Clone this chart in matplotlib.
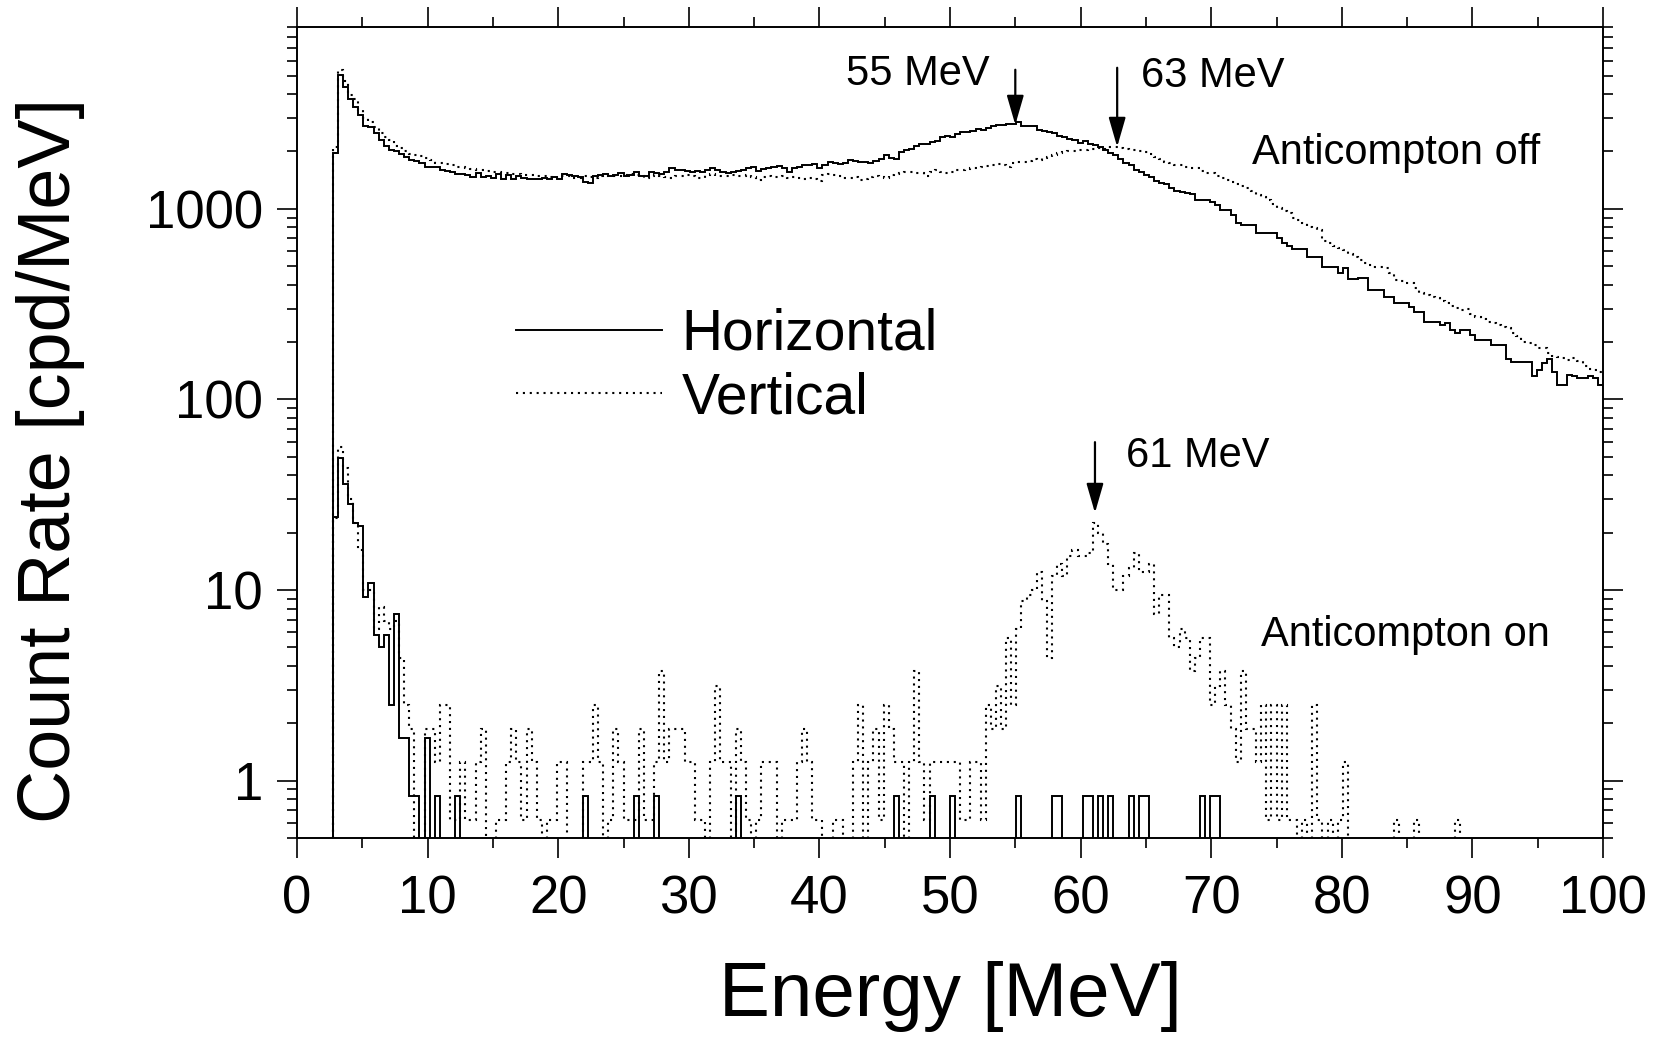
import numpy as np
import matplotlib
matplotlib.use("Agg")
import matplotlib.pyplot as plt
from matplotlib.lines import Line2D
from matplotlib.ticker import FixedLocator, LogLocator, NullFormatter, FuncFormatter

plt.rcParams['font.family'] = ['Liberation Sans', 'DejaVu Sans']

## spectrum binning: 256 channels over 0-100 MeV, first filled channel is 7
n_chan = 256
e_max = 100.0
first_chan = 7

## Anticompton off, count rate per channel [cpd/MeV], channels 7..255
off_horizontal = [
    1975, 5035, 4355, 3778, 3418, 3114, 2728, 2675, 2497, 2302,
    2148, 2040, 2000, 1945, 1868, 1808, 1790, 1750, 1667, 1650,
    1660, 1602, 1580, 1560, 1522, 1530, 1500, 1467, 1545, 1467,
    1480, 1460, 1530, 1437, 1510, 1440, 1480, 1460, 1437, 1437,
    1430, 1455, 1437, 1467, 1437, 1530, 1500, 1480, 1467, 1390,
    1364, 1480, 1510, 1530, 1490, 1510, 1545, 1490, 1510, 1560,
    1490, 1490, 1560, 1545, 1530, 1560, 1635, 1600, 1590, 1580,
    1560, 1580, 1560, 1590, 1635, 1590, 1560, 1545, 1560, 1580,
    1600, 1635, 1650, 1580, 1620, 1635, 1667, 1682, 1635, 1570,
    1635, 1667, 1690, 1700, 1722, 1635, 1700, 1757, 1738, 1722,
    1750, 1807, 1786, 1757, 1757, 1750, 1786, 1822, 1920, 1845,
    1822, 1976, 2040, 2065, 2150, 2185, 2195, 2240, 2282, 2397,
    2425, 2380, 2467, 2527, 2527, 2575, 2617, 2600, 2650, 2725,
    2740, 2760, 2800, 2780, 2840, 2706, 2725, 2706, 2600, 2570,
    2520, 2495, 2415, 2380, 2320, 2300, 2210, 2260, 2185, 2165,
    2100, 2040, 1960, 1920, 1822, 1738, 1700, 1600, 1570, 1508,
    1478, 1403, 1375, 1353, 1284, 1248, 1233, 1218, 1200, 1115,
    1115, 1115, 1084, 1050, 988, 988, 930, 841, 824, 824,
    824, 745, 745, 745, 745, 701, 660, 640, 614, 614,
    614, 562, 562, 562, 498, 498, 498, 460, 488, 427,
    427, 433, 433, 376, 376, 376, 343, 343, 320, 320,
    320, 307, 286, 286, 256, 256, 256, 246, 253, 232,
    223, 232, 232, 218, 205, 205, 205, 193, 193, 193,
    164, 158, 158, 158, 158, 132, 143, 155, 164, 140,
    119, 119, 134, 132, 129, 129, 132, 130, 119]

off_vertical = [
    2123, 5370, 4700, 3965, 3750, 3310, 3000, 2850, 2700, 2500,
    2380, 2300, 2125, 2085, 2000, 1945, 1925, 1890, 1840, 1808,
    1750, 1740, 1720, 1690, 1667, 1650, 1635, 1610, 1600, 1590,
    1580, 1560, 1560, 1545, 1545, 1530, 1530, 1510, 1510, 1500,
    1480, 1490, 1467, 1450, 1480, 1490, 1480, 1460, 1450, 1490,
    1467, 1450, 1480, 1510, 1480, 1490, 1480, 1510, 1530, 1510,
    1480, 1450, 1480, 1510, 1480, 1467, 1450, 1480, 1490, 1510,
    1490, 1450, 1460, 1510, 1530, 1490, 1480, 1490, 1510, 1480,
    1490, 1510, 1467, 1420, 1478, 1496, 1467, 1478, 1496, 1460,
    1478, 1449, 1437, 1449, 1430, 1392, 1508, 1526, 1508, 1496,
    1460, 1449, 1478, 1420, 1430, 1478, 1490, 1478, 1449, 1508,
    1526, 1540, 1557, 1557, 1540, 1550, 1490, 1570, 1590, 1570,
    1550, 1570, 1590, 1600, 1620, 1635, 1635, 1650, 1682, 1700,
    1715, 1690, 1667, 1736, 1757, 1772, 1790, 1822, 1807, 1845,
    1882, 1920, 1960, 1983, 2000, 2016, 2025, 2040, 2050, 2065,
    2080, 2065, 2124, 2124, 2080, 2065, 2040, 2025, 2000, 1976,
    1945, 1882, 1822, 1772, 1736, 1700, 1690, 1660, 1635, 1630,
    1580, 1545, 1540, 1480, 1450, 1420, 1390, 1350, 1320, 1284,
    1240, 1180, 1160, 1115, 1060, 1008, 980, 949, 900, 870,
    840, 808, 790, 776, 680, 660, 640, 622, 610, 580,
    562, 540, 519, 510, 498, 495, 488, 460, 424, 420,
    407, 407, 385, 361, 355, 345, 340, 330, 320, 310,
    301, 295, 300, 280, 272, 265, 256, 252, 246, 240,
    236, 223, 215, 201, 197, 193, 186, 186, 175, 170,
    168, 165, 161, 165, 160, 149, 145, 143, 140]

## Anticompton on: raw counts per channel, one count = unit [cpd/MeV]
on_horizontal_unit = 1 / 1.2
on_horizontal_chan = [7, 8, 9, 10, 11, 12, 13, 14, 15, 16, 17, 18, 19, 20, 21,
                      22, 23, 25, 27, 31, 56, 66, 70, 86, 117, 124, 128, 141,
                      148, 149, 154, 155, 157, 159, 163, 165, 166, 177, 179, 180]
on_horizontal_counts = [29, 59, 43, 34, 27, 26, 11, 13, 7, 6, 7, 3, 9, 2, 2,
                        1, 1, 2, 1, 1, 1, 1, 1, 1, 1, 1, 1, 1,
                        1, 1, 1, 1, 1, 1, 1, 1, 1, 1, 1, 1]

on_vertical_unit = 1 / 1.6
on_vertical_counts = [  # channels 7..227
    38, 90, 70, 48, 36, 26, 16, 16, 10, 13,
    11, 10, 11, 7, 4, 3, 0, 0, 3, 3,
    2, 4, 4, 1, 1, 2, 1, 1, 2, 3,
    0, 0, 1, 1, 2, 3, 2, 1, 3, 2,
    1, 0, 1, 1, 2, 2, 0, 0, 0, 2,
    2, 4, 2, 0, 1, 3, 2, 1, 1, 1,
    3, 1, 1, 2, 6, 2, 3, 3, 3, 2,
    2, 1, 1, 0, 2, 5, 2, 2, 0, 3,
    2, 1, 0, 1, 2, 2, 2, 0, 1, 1,
    1, 2, 3, 2, 1, 1, 0, 0, 1, 1,
    0, 0, 2, 4, 0, 2, 3, 1, 4, 3,
    2, 2, 0, 2, 6, 2, 1, 2, 2, 2,
    2, 2, 2, 1, 1, 2, 2, 1, 4, 3,
    5, 3, 9, 4, 10, 14, 15, 16, 20, 14,
    7, 19, 22, 19, 24, 26, 24, 24, 25, 36,
    32, 28, 22, 16, 16, 19, 21, 25, 20, 20,
    22, 12, 15, 15, 9, 8, 10, 9, 6, 7,
    9, 9, 4, 5, 6, 4, 3, 2, 6, 3,
    3, 2, 4, 1, 4, 1, 4, 1, 1, 0,
    1, 0, 4, 1, 0, 1, 0, 1, 2, 0,
    0, 0, 0, 0, 0, 0, 0, 0, 1, 0,
    0, 0, 1, 0, 0, 0, 0, 0, 0, 0,
    1]

## peak markers: energy, arrow top, arrow tip
peak_labels = ['55 MeV', '63 MeV', '61 MeV']
peak_energy = [55.0, 62.8, 61.1]
peak_from = [5370, 5500, 59.7]
peak_to = [2760, 2115, 25.4]


## build full channel arrays, empty channels pushed below the axis
floor = 1e-2
edges = np.linspace(0, e_max, n_chan + 1)


def full_spectrum(vals, start):
    out = np.full(n_chan, floor)
    out[start:start + len(vals)] = vals
    return out


h_off = full_spectrum(off_horizontal, first_chan)
v_off = full_spectrum(off_vertical, first_chan)

h_on = np.zeros(n_chan)
h_on[on_horizontal_chan] = on_horizontal_counts
h_on = np.where(h_on > 0, h_on * on_horizontal_unit, floor)

v_on = np.zeros(n_chan)
v_on[first_chan:first_chan + len(on_vertical_counts)] = on_vertical_counts
v_on = np.where(v_on > 0, v_on * on_vertical_unit, floor)

## figure
fig = plt.figure(figsize=(16.62, 10.37), dpi=100)
ax = fig.add_axes([297 / 1662, 1 - 838 / 1037, 1306 / 1662, 811 / 1037])

dots = (0, (1, 2.3))
lw = 1.4
ax.stairs(h_off, edges, baseline=None, color='k', lw=lw)
ax.stairs(v_off, edges, baseline=None, color='k', lw=1.5, linestyle=dots)
ax.stairs(h_on, edges, baseline=None, color='k', lw=lw)
ax.stairs(v_on, edges, baseline=None, color='k', lw=1.5, linestyle=dots)

ax.set_yscale('log')
ax.set_xlim(0, 100)
ax.set_ylim(0.5, 9000)

## ticks
ax.xaxis.set_major_locator(FixedLocator(np.arange(0, 101, 10)))
ax.xaxis.set_minor_locator(FixedLocator(np.arange(5, 100, 10)))
ax.yaxis.set_major_locator(FixedLocator([1, 10, 100, 1000]))
ax.yaxis.set_minor_locator(LogLocator(base=10, subs=np.arange(2, 10), numticks=20))
ax.yaxis.set_major_formatter(FuncFormatter(lambda v, p: '%d' % v))
ax.yaxis.set_minor_formatter(NullFormatter())
ax.tick_params(which='both', direction='out', top=True, right=True, width=1.2, colors='k')
ax.tick_params(which='major', length=14.5, labelsize=38)
ax.tick_params(which='minor', length=7.5)
ax.tick_params(axis='y', which='major', pad=10)
ax.tick_params(axis='x', which='major', pad=12)
for s in ax.spines.values():
    s.set_linewidth(1.4)

ax.set_xlabel('Energy [MeV]', fontsize=55)
ax.set_ylabel('Count Rate [cpd/MeV]', fontsize=53)
ax.xaxis.set_label_coords(0.5, -0.195)
ax.xaxis.label.set_va('center')
ax.yaxis.set_label_coords(-0.189, 0.465)
ax.yaxis.label.set_va('center')

## peak arrows and labels
for lab, e, y0, y1 in zip(peak_labels, peak_energy, peak_from, peak_to):
    ax.annotate('', xy=(e, y1), xytext=(e, y0),
                arrowprops=dict(arrowstyle='-|>,head_length=0.45,head_width=0.13',
                                color='k', lw=1.6, mutation_scale=40,
                                shrinkA=0, shrinkB=0))
ax.text(47.5, 5115, peak_labels[0], fontsize=30, ha='center', va='center')
ax.text(70.1, 4990, peak_labels[1], fontsize=30, ha='center', va='center')
ax.text(69.0, 50.8, peak_labels[2], fontsize=30, ha='center', va='center')
ax.text(84.15, 1968, 'Anticompton off', fontsize=30, ha='center', va='center')
ax.text(84.9, 5.8, 'Anticompton on', fontsize=30, ha='center', va='center')

## legend
handles = [Line2D([], [], color='k', lw=lw),
           Line2D([], [], color='k', lw=1.5, linestyle=dots)]
ax.legend(handles, ['Horizontal', 'Vertical'], loc='upper left',
          bbox_to_anchor=(0.168, 0.654), frameon=False, fontsize=41,
          handlelength=2.55, handletextpad=0.35, labelspacing=0.17,
          borderpad=0, borderaxespad=0)

fig.savefig('out.png', dpi=100)
